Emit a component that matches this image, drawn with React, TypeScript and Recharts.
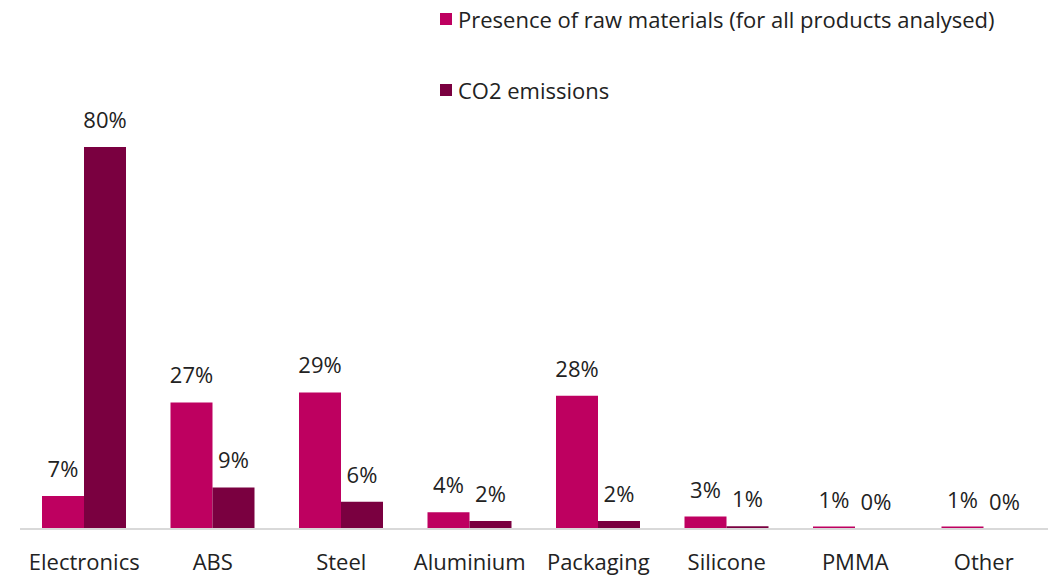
import { BarChart, Bar, XAxis, YAxis, LabelList } from "recharts";

const categories = [
  "Electronics",
  "ABS",
  "Steel",
  "Aluminium",
  "Packaging",
  "Silicone",
  "PMMA",
  "Other",
];
const rawMaterials = [6.9, 26.5, 28.6, 3.5, 27.9, 2.6, 0.5, 0.5];
const co2Emissions = [80, 8.7, 5.7, 1.7, 1.7, 0.6, 0.04, 0.04];

const seriesNames = [
  "Presence of raw materials (for all products analysed)",
  "CO2 emissions",
];
const RAW_COLOR = "#be0060";
const CO2_COLOR = "#7a0040";
const FONT = "'Open Sans', 'Noto Sans', sans-serif";

const data = categories.map((name, i) => ({
  name,
  raw: rawMaterials[i],
  co2: co2Emissions[i],
}));

const fmt = (v: unknown) => `${Math.round(Number(v))}%`;

function LegendBox() {
  const items = [
    { label: seriesNames[0], color: RAW_COLOR },
    { label: seriesNames[1], color: CO2_COLOR },
  ];
  return (
    <div
      style={{
        position: "absolute",
        left: 440,
        top: 4,
        fontFamily: FONT,
        fontSize: 22,
        color: "#222",
        whiteSpace: "nowrap",
      }}
    >
      {items.map((it, i) => (
        <div
          key={it.label}
          style={{
            display: "flex",
            alignItems: "center",
            height: 30,
            marginBottom: i === 0 ? 41 : 0,
          }}
        >
          <span
            style={{
              display: "inline-block",
              width: 12,
              height: 12,
              background: it.color,
              marginRight: 6,
            }}
          />
          <span>{it.label}</span>
        </div>
      ))}
    </div>
  );
}

const labelStyle = { fontFamily: FONT, fontSize: 22, fill: "#222" };

export default function App() {
  return (
    <div style={{ position: "absolute", left: 0, top: 0, width: 1048, height: 577, background: "#fff" }}>
      <BarChart
        width={1048}
        height={577}
        data={data}
        margin={{ top: 147, right: 0, left: 20, bottom: 0 }}
        barGap={0}
        barSize={42}
      >
        <XAxis
          dataKey="name"
          height={48}
          tickLine={false}
          tickSize={0}
          tickMargin={25}
          axisLine={{ stroke: "#d9d9d9", strokeWidth: 2 }}
          tick={{ fontFamily: FONT, fontSize: 22, fill: "#222" }}
          interval={0}
        />
        <YAxis hide domain={[0, 80]} />
        <Bar dataKey="raw" fill={RAW_COLOR} isAnimationActive={false}>
          <LabelList dataKey="raw" position="top" offset={19} formatter={fmt} style={labelStyle} />
        </Bar>
        <Bar dataKey="co2" fill={CO2_COLOR} isAnimationActive={false}>
          <LabelList dataKey="co2" position="top" offset={19} formatter={fmt} style={labelStyle} />
        </Bar>
      </BarChart>
      <LegendBox />
    </div>
  );
}
